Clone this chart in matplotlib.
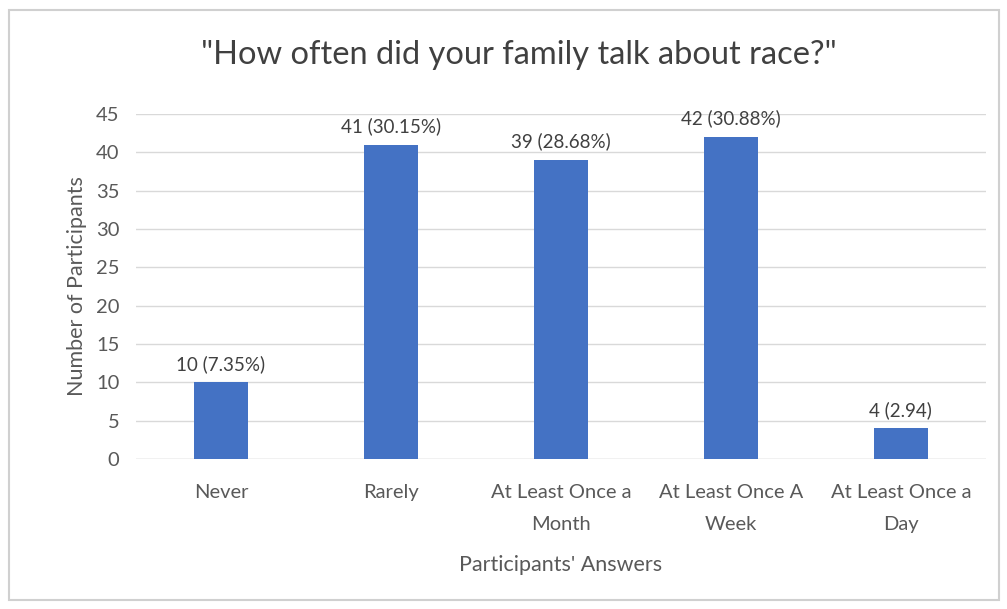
import matplotlib.pyplot as plt
from matplotlib.patches import Rectangle

# Survey answers
categories = ["Never", "Rarely", "At Least Once a\nMonth", "At Least Once A\nWeek", "At Least Once a\nDay"]
counts = [10, 41, 39, 42, 4]
bar_labels = ["10 (7.35%)", "41 (30.15%)", "39 (28.68%)", "42 (30.88%)", "4 (2.94)"]
y_ticks = [0, 5, 10, 15, 20, 25, 30, 35, 40, 45]

plt.rcParams['font.family'] = ['Lato', 'DejaVu Sans']
TEXT = '#595959'

fig = plt.figure(figsize=(10.07, 6.09), dpi=100)
ax = fig.add_axes([0.135, 0.246, 0.844, 0.567])

x = range(len(categories))
ax.bar(x, counts, width=0.32, color='#4472C4', zorder=3)
for i, (v, lab) in enumerate(zip(counts, bar_labels)):
    ax.annotate(lab, (i, v), xytext=(0, 7), textcoords='offset points',
                ha='center', va='bottom', fontsize=13.5, color='#404040')

ax.set_xlim(-0.5, len(categories) - 0.5)
ax.set_ylim(0, 45)
ax.set_yticks(y_ticks)
ax.set_xticks(list(x))
ax.set_xticklabels(categories, fontsize=14.5, color=TEXT, linespacing=2.05)
ax.tick_params(axis='y', labelsize=14.5, labelcolor=TEXT, length=0, pad=12)
ax.tick_params(axis='x', length=0, pad=18)
ax.grid(axis='y', color='#D9D9D9', lw=1, zorder=0)
for s in ax.spines.values():
    s.set_visible(False)
ax.axhline(0, color='#D9D9D9', lw=1, zorder=1)

ax.set_xlabel("Participants' Answers", fontsize=15.5, color=TEXT, labelpad=16)
ax.set_ylabel("Number of Participants", fontsize=15.5, color=TEXT, labelpad=6)
fig.text(0.515, 0.91, '"How often did your family talk about race?"',
         ha='center', va='center', fontsize=23.5, color='#404040')

# outer chart border
fig.patches.append(Rectangle((0.009, 0.015), 0.983, 0.968, transform=fig.transFigure,
                             fill=False, edgecolor='#D0D0D0', lw=1.5))

fig.savefig('out.png', dpi=100)
